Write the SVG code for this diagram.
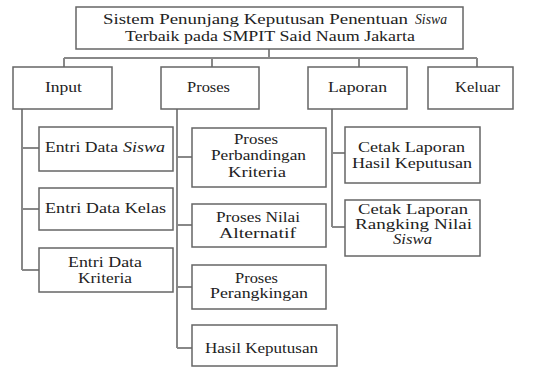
<svg xmlns="http://www.w3.org/2000/svg" width="541" height="367" viewBox="0 0 541 367">
<style>
.box{fill:#fff;stroke:#666;stroke-width:1.5}
.t{font-family:"Liberation Serif","Times New Roman",serif;font-size:14px;fill:#222}
.tt{font-family:"Liberation Serif","Times New Roman",serif;font-size:15px;fill:#222}
.i{font-style:italic}
.c{fill:none;stroke:#888;stroke-width:2}
</style>
<rect width="541" height="367" fill="#fff"/>
<g id="connectors">
<path class="c" d="M269,49V58M64,58H477M64,58V67M212,58V67M359,58V67M477,58V67"/>
<path class="c" d="M22,109V270M22,148H39M22,209H39M22,270H39"/>
<path class="c" d="M177,109V348M177,157H192M177,225H192M177,287H192M177,348H192"/>
<path class="c" d="M332,109V227M332,153H345M332,227H345"/>
</g>
<g id="root">
<rect class="box" x="76" y="7" width="387" height="42"/>
<text class="tt" x="103" y="24" textLength="305" lengthAdjust="spacingAndGlyphs">Sistem Penunjang Keputusan Penentuan</text>
<text class="tt i" x="415" y="24" textLength="32" lengthAdjust="spacingAndGlyphs">Siswa</text>
<text class="tt" x="125" y="41" textLength="290" lengthAdjust="spacingAndGlyphs">Terbaik pada SMPIT Said Naum Jakarta</text>
</g>
<g id="input">
<rect class="box" x="13" y="67" width="99" height="42"/>
<text class="t" x="45" y="92" textLength="37" lengthAdjust="spacingAndGlyphs">Input</text>
</g>
<g id="proses">
<rect class="box" x="161" y="67" width="98" height="42"/>
<text class="t" x="187" y="92" textLength="43" lengthAdjust="spacingAndGlyphs">Proses</text>
</g>
<g id="laporan">
<rect class="box" x="308" y="67" width="99" height="42"/>
<text class="t" x="328" y="92" textLength="59" lengthAdjust="spacingAndGlyphs">Laporan</text>
</g>
<g id="keluar">
<rect class="box" x="428" y="67" width="85" height="42"/>
<text class="t" x="455" y="92" textLength="45" lengthAdjust="spacingAndGlyphs">Keluar</text>
</g>
<g id="entri-siswa">
<rect class="box" x="39" y="127" width="134" height="44"/>
<text class="t" x="45" y="152" textLength="73" lengthAdjust="spacingAndGlyphs">Entri Data</text>
<text class="t i" x="123" y="152" textLength="42" lengthAdjust="spacingAndGlyphs">Siswa</text>
</g>
<g id="entri-kelas">
<rect class="box" x="39" y="188" width="134" height="42"/>
<text class="t" x="45" y="213" textLength="121" lengthAdjust="spacingAndGlyphs">Entri Data Kelas</text>
</g>
<g id="entri-kriteria">
<rect class="box" x="39" y="248" width="134" height="44"/>
<text class="t" x="68" y="267" textLength="74" lengthAdjust="spacingAndGlyphs">Entri Data</text>
<text class="t" x="78" y="283" textLength="54" lengthAdjust="spacingAndGlyphs">Kriteria</text>
</g>
<g id="proses-perbandingan">
<rect class="box" x="192" y="128" width="134" height="59"/>
<text class="t" x="234" y="144" textLength="44" lengthAdjust="spacingAndGlyphs">Proses</text>
<text class="t" x="211" y="160" textLength="95" lengthAdjust="spacingAndGlyphs">Perbandingan</text>
<text class="t" x="228" y="177" textLength="58" lengthAdjust="spacingAndGlyphs">Kriteria</text>
</g>
<g id="proses-nilai">
<rect class="box" x="192" y="204" width="134" height="43"/>
<text class="t" x="216" y="222" textLength="84" lengthAdjust="spacingAndGlyphs">Proses Nilai</text>
<text class="t" x="219" y="238" textLength="77" lengthAdjust="spacingAndGlyphs">Alternatif</text>
</g>
<g id="proses-perangkingan">
<rect class="box" x="192" y="265" width="134" height="44"/>
<text class="t" x="235" y="283" textLength="43" lengthAdjust="spacingAndGlyphs">Proses</text>
<text class="t" x="210" y="298" textLength="98" lengthAdjust="spacingAndGlyphs">Perangkingan</text>
</g>
<g id="hasil-keputusan">
<rect class="box" x="192" y="325" width="145" height="41"/>
<text class="t" x="205" y="353" textLength="113" lengthAdjust="spacingAndGlyphs">Hasil Keputusan</text>
</g>
<g id="cetak-hasil">
<rect class="box" x="345" y="127" width="135" height="56"/>
<text class="t" x="358" y="152" textLength="107" lengthAdjust="spacingAndGlyphs">Cetak Laporan</text>
<text class="t" x="352" y="168" textLength="120" lengthAdjust="spacingAndGlyphs">Hasil Keputusan</text>
</g>
<g id="cetak-rangking">
<rect class="box" x="345" y="200" width="135" height="56"/>
<text class="t" x="358" y="214" textLength="110" lengthAdjust="spacingAndGlyphs">Cetak Laporan</text>
<text class="t" x="355" y="229" textLength="117" lengthAdjust="spacingAndGlyphs">Rangking Nilai</text>
<text class="t i" x="393" y="244" textLength="39" lengthAdjust="spacingAndGlyphs">Siswa</text>
</g>
</svg>
